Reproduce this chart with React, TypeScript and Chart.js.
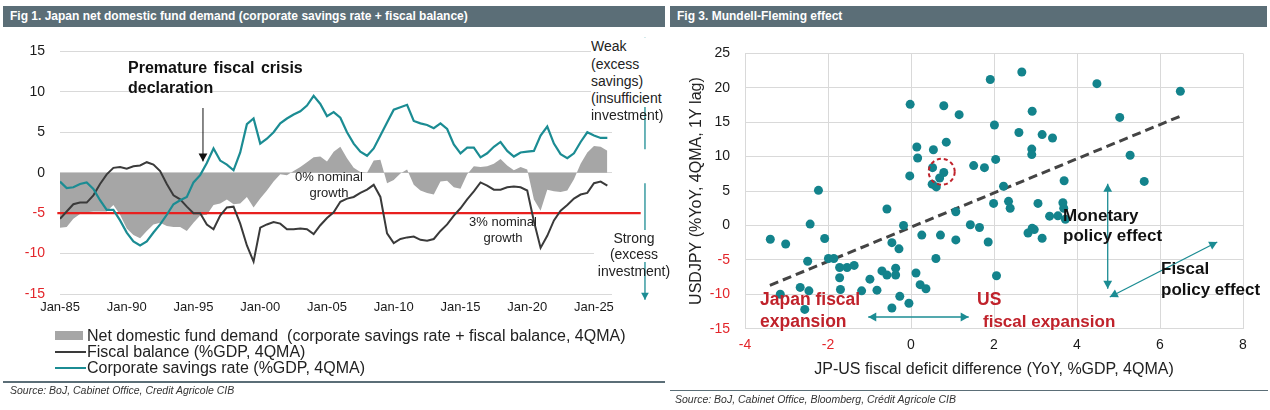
import React, { useEffect, useRef } from 'react';
import Chart from 'chart.js/auto';

const FONT = '"Liberation Sans", Arial, sans-serif';
const SLATE = '#5b6e77';
const TEAL = '#1b8c93';
const DOT = '#13838c';
const RED_TICK = '#e3262b';
const RED_TEXT = '#c0222b';
const INK = '#1a1a1a';

// ---- Fig 1: half-yearly readings, 1985 to 2026 ----
const periods = [
  1985, 1985.5, 1986, 1986.5, 1987, 1987.5, 1988, 1988.5, 1989, 1989.5,
  1990, 1990.5, 1991, 1991.5, 1992, 1992.5, 1993, 1993.5, 1994, 1994.5,
  1995, 1995.5, 1996, 1996.5, 1997, 1997.5, 1998, 1998.5, 1999, 1999.5,
  2000, 2000.5, 2001, 2001.5, 2002, 2002.5, 2003, 2003.5, 2004, 2004.5,
  2005, 2005.5, 2006, 2006.5, 2007, 2007.5, 2008, 2008.5, 2009, 2009.5,
  2010, 2010.5, 2011, 2011.5, 2012, 2012.5, 2013, 2013.5, 2014, 2014.5,
  2015, 2015.5, 2016, 2016.5, 2017, 2017.5, 2018, 2018.5, 2019, 2019.5,
  2020, 2020.5, 2021, 2021.5, 2022, 2022.5, 2023, 2023.5, 2024, 2024.5,
  2025, 2025.5, 2026,
];

const corpSavings = [
  -1.1, -1.9, -1.8, -1.4, -1.2, -2.0, -3.4, -4.6, -4.6, -5.9,
  -7.4, -8.5, -9.0, -8.5, -7.4, -6.4, -5.2, -3.9, -3.4, -3.0,
  -1.2, -0.3, 1.2, 3.0, 1.5, 1.0, 0.3, 2.5, 6.0, 6.7,
  3.6, 4.2, 5.0, 6.1, 6.7, 7.2, 7.6, 8.3, 9.5, 8.5,
  7.0, 7.5, 6.8, 5.0, 3.6, 2.6, 2.1, 3.0, 4.6, 6.2,
  7.8, 8.1, 8.4, 6.4, 6.1, 5.9, 5.5, 6.1, 5.4, 3.5,
  2.4, 3.1, 3.1, 1.9, 2.4, 3.2, 3.8, 2.7, 2.0, 2.5,
  2.6, 2.7, 4.6, 5.7, 3.6, 2.3, 1.8, 2.4, 3.8, 5.0,
  4.6, 4.3, 4.3,
];

const fiscalBalance = [
  -5.7, -4.8, -3.9, -3.7, -3.7, -2.8, -1.4, -0.2, 0.6, 0.7,
  0.5, 0.8, 0.9, 1.3, 1.0, 0.2, -1.4, -2.8, -3.3, -4.2,
  -5.0, -5.0, -6.4, -7.0, -5.3, -4.3, -4.2, -6.3, -9.0, -11.0,
  -6.8, -6.4, -6.1, -6.3, -7.0, -7.0, -6.9, -7.0, -7.6, -6.5,
  -5.6, -4.9, -3.6, -3.2, -3.0, -2.5, -2.1, -1.5, -3.0, -7.5,
  -8.7, -8.2, -8.0, -7.9, -8.3, -8.4, -8.2, -7.2, -6.4, -5.3,
  -4.4, -3.3, -2.3, -1.2, -1.6, -2.1, -2.1, -1.8, -1.7, -1.8,
  -2.2, -6.0, -9.3, -7.8, -5.9, -4.7, -4.0, -3.2, -2.7, -2.5,
  -1.3, -1.1, -1.6,
];

const netDemand = [
  -6.8, -6.7, -5.7, -5.1, -4.9, -4.8, -4.8, -4.8, -4.0, -5.2,
  -6.9, -7.7, -8.1, -7.2, -6.4, -6.2, -6.6, -6.7, -6.7, -7.2,
  -6.2, -5.3, -5.2, -4.0, -3.8, -3.3, -3.9, -3.8, -3.0, -4.3,
  -3.2, -2.2, -1.1, -0.2, -0.3, 0.2, 0.7, 1.3, 1.9, 2.0,
  1.4, 2.6, 3.2, 1.8, 0.6, 0.1, 0.0, 1.5, 1.6, -1.3,
  -0.9, -0.1, 0.4, -1.5, -2.2, -2.5, -2.7, -1.1, -1.0, -1.8,
  -2.0, -0.2, 0.8, 0.7, 0.8, 1.1, 1.7, 0.9, 0.3, 0.7,
  0.4, -3.3, -4.7, -2.1, -2.3, -2.4, -2.2, -0.8, 1.1, 2.5,
  3.3, 3.2, 2.7,
];

// 3% nominal growth threshold line
const thresholdYears = [1984.8, 2028.5];
const thresholdLevel = [-5, -5];

const fig1TickYears = [1985, 1990, 1995, 2000, 2005, 2010, 2015, 2020, 2025];

// ---- Fig 3: JP-US fiscal deficit difference vs USDJPY ----
const deficitDiff = [
  -0.02, 0.79, 1.16, 2.01, 0.14, 0.54, 0.85, 0.16, 2.04, 1.51,
  1.77, 0.52, 0.79, 0.69, -0.03, 0.51, 0.61, -2.23, 1.99, -0.58,
  1.08, -2.43, -0.18, 1.43, 1.65, -3.39, -3.02, -2.08, 0.26, 0.71,
  1.08, 1.86, -0.46, -0.29, -2.49, -1.99, -1.86, 0.6, -1.72, -1.54,
  -1.37, -0.7, -0.58, -0.37, -0.37, 0.12, -1.72, -0.99, 2.06, -2.67,
  -2.46, -1.7, -1.19, -0.82, 0.22, 0.36, -3.15, -0.27, -0.05, -2.56,
  -0.46, 1.91, 2.67, 4.48, 6.49, 2.92, 5.03, 2.6, 3.16, 3.41,
  2.91, 2.91, 5.28, 3.69, 5.62, 2.23, 2.35, 2.39, 3.06, 3.66,
  3.68, 3.34, 3.54, 3.72, 2.92, 2.82, 2.97, 3.16,
];

const usdjpyChange = [
  17.6, 17.4, 16.1, 14.6, 11.4, 11.0, 12.1, 9.8, 9.6, 8.7,
  8.4, 8.4, 7.7, 6.9, 7.2, 6.0, 5.6, 5.1, 3.2, 2.4,
  2.0, 0.2, 0.0, 0.1, -0.3, -2.0, -2.7, -1.9, -1.4, -1.4,
  -2.1, -2.4, -2.5, -3.4, -5.2, -4.8, -4.8, -4.8, -6.1, -6.1,
  -5.8, -6.6, -7.2, -6.2, -7.2, -6.9, -7.6, -7.8, -7.3, -9.0,
  -9.5, -9.3, -9.5, -9.4, -8.6, -9.2, -10.0, -10.3, -11.3, -12.2,
  -12.0, 21.2, 22.3, 20.6, 19.5, 16.6, 15.7, 13.5, 13.2, 12.7,
  11.1, 10.3, 10.2, 6.5, 6.4, 5.7, 3.5, 2.5, 3.2, 3.3,
  2.5, 1.35, 1.4, 0.9, -0.4, -1.1, -0.6, -1.85,
];

const trendX = [-3.4, 6.5];
const trendY = [-8.7, 15.9];

const pts = (xs: number[], ys: number[]) => xs.map((x, i) => ({ x, y: ys[i] }));

function drawArrow(
  ctx: CanvasRenderingContext2D,
  x1: number, y1: number, x2: number, y2: number,
  color: string, width: number, size: number, both: boolean,
) {
  const head = (x: number, y: number, ang: number) => {
    ctx.save();
    ctx.translate(x, y);
    ctx.rotate(ang);
    ctx.beginPath();
    ctx.moveTo(0, 0);
    ctx.lineTo(-size, size * 0.55);
    ctx.lineTo(-size, -size * 0.55);
    ctx.closePath();
    ctx.fill();
    ctx.restore();
  };
  const ang = Math.atan2(y2 - y1, x2 - x1);
  ctx.save();
  ctx.strokeStyle = color;
  ctx.fillStyle = color;
  ctx.lineWidth = width;
  ctx.beginPath();
  ctx.moveTo(x1, y1);
  ctx.lineTo(x2, y2);
  ctx.stroke();
  head(x2, y2, ang);
  if (both) head(x1, y1, ang + Math.PI);
  ctx.restore();
}

const fig1Arrows = {
  id: 'fig1Arrows',
  afterDatasetsDraw(chart: any) {
    const { ctx, scales } = chart;
    const px = (v: number) => scales.x.getPixelForValue(v);
    const py = (v: number) => scales.y.getPixelForValue(v);
    drawArrow(ctx, px(1995.71), py(8.0), px(1995.71), py(1.4), '#111', 1, 8, false);
    drawArrow(ctx, px(2028.82), py(2.9), px(2028.82), py(16.7), TEAL, 1.3, 7, false);
    drawArrow(ctx, px(2028.82), py(-1.3), px(2028.82), py(-15.7), TEAL, 1.3, 7, false);
  },
};

const fig3Arrows = {
  id: 'fig3Arrows',
  afterDatasetsDraw(chart: any) {
    const { ctx, scales } = chart;
    const px = (v: number) => scales.x.getPixelForValue(v);
    const py = (v: number) => scales.y.getPixelForValue(v);
    drawArrow(ctx, px(-1.03), py(-13.3), px(1.39), py(-13.3), TEAL, 1.3, 8, true);
    drawArrow(ctx, px(4.74), py(6.07), px(4.74), py(-9.2), TEAL, 1.3, 8, true);
    drawArrow(ctx, px(4.79), py(-10.4), px(7.38), py(-2.4), TEAL, 1.3, 8, true);
    ctx.save();
    ctx.strokeStyle = RED_TEXT;
    ctx.lineWidth = 2;
    ctx.setLineDash([4, 3]);
    ctx.beginPath();
    ctx.arc(px(0.74), py(7.8), 13, 0, Math.PI * 2);
    ctx.stroke();
    ctx.restore();
  },
};

const Fig1Chart: React.FC = () => {
  const canvasRef = useRef<HTMLCanvasElement>(null);
  const chartRef = useRef<Chart | null>(null);

  useEffect(() => {
    if (!canvasRef.current) return;
    if (chartRef.current) chartRef.current.destroy();

    chartRef.current = new Chart(canvasRef.current, {
      type: 'line',
      data: {
        datasets: [
          {
            label: 'Corporate savings rate (%GDP, 4QMA)',
            data: pts(periods, corpSavings),
            borderColor: TEAL,
            borderWidth: 2.2,
            pointRadius: 0,
            order: 0,
          },
          {
            label: 'Fiscal balance (%GDP, 4QMA)',
            data: pts(periods, fiscalBalance),
            borderColor: '#3a3a3a',
            borderWidth: 2,
            pointRadius: 0,
            order: 1,
          },
          {
            label: '3% nominal growth',
            data: pts(thresholdYears, thresholdLevel),
            borderColor: '#e8201f',
            borderWidth: 2.2,
            pointRadius: 0,
            clip: false,
            order: 2,
          },
          {
            label: 'Net domestic fund demand',
            data: pts(periods, netDemand),
            borderWidth: 0,
            borderColor: 'rgba(0,0,0,0)',
            backgroundColor: '#a6a6a6',
            fill: 'origin',
            pointRadius: 0,
            order: 3,
          },
        ],
      } as any,
      options: {
        animation: false,
        responsive: false,
        events: [],
        layout: { padding: { top: 16, right: 53, left: 0, bottom: 0 } },
        plugins: { legend: { display: false }, tooltip: { enabled: false } },
        scales: {
          x: {
            type: 'linear',
            min: 1985,
            max: 2026.35,
            afterBuildTicks: (s: any) => {
              s.ticks = fig1TickYears.map(v => ({ value: v }));
            },
            afterFit: (s: any) => {
              s.height = 34;
            },
            grid: { display: false, drawTicks: false },
            border: { display: false },
            ticks: {
              padding: 6,
              color: INK,
              maxRotation: 0,
              autoSkip: false,
              font: { size: 13, family: FONT },
              callback: (v: any) => 'Jan-' + String(v).slice(2),
            },
          },
          y: {
            min: -15,
            max: 15,
            afterFit: (s: any) => {
              s.width = 60;
            },
            grid: { color: '#d9d9d9', drawTicks: false },
            border: { display: false },
            ticks: {
              stepSize: 5,
              padding: 15,
              font: { size: 14, family: FONT },
              color: (c: any) => (c.tick && c.tick.value < 0 ? RED_TICK : INK),
            },
          },
        },
      } as any,
      plugins: [fig1Arrows],
    });

    return () => {
      if (chartRef.current) {
        chartRef.current.destroy();
        chartRef.current = null;
      }
    };
  }, []);

  return (
    <canvas
      ref={canvasRef}
      width={665}
      height={300}
      style={{ position: 'absolute', left: 0, top: 28, width: 665, height: 300 }}
    />
  );
};

const Fig3Chart: React.FC = () => {
  const canvasRef = useRef<HTMLCanvasElement>(null);
  const chartRef = useRef<Chart | null>(null);

  useEffect(() => {
    if (!canvasRef.current) return;
    if (chartRef.current) chartRef.current.destroy();

    chartRef.current = new Chart(canvasRef.current, {
      type: 'scatter',
      data: {
        datasets: [
          {
            label: 'USDJPY vs fiscal deficit difference',
            data: pts(deficitDiff, usdjpyChange),
            backgroundColor: DOT,
            borderWidth: 0,
            pointRadius: 4.5,
            order: 0,
          },
          {
            type: 'line',
            label: 'Trend',
            data: pts(trendX, trendY),
            borderColor: '#444',
            borderWidth: 3,
            borderDash: [9, 5],
            pointRadius: 0,
            order: 1,
          },
        ],
      } as any,
      options: {
        animation: false,
        responsive: false,
        events: [],
        layout: { padding: { top: 10.7, right: 25, left: 0, bottom: 0 } },
        plugins: { legend: { display: false }, tooltip: { enabled: false } },
        scales: {
          x: {
            type: 'linear',
            min: -4,
            max: 8,
            afterFit: (s: any) => {
              s.height = 56.3;
            },
            grid: { color: '#d9d9d9', drawTicks: false },
            border: { display: false },
            ticks: {
              stepSize: 2,
              padding: 8,
              font: { size: 14, family: FONT },
              color: (c: any) => (c.tick && c.tick.value < 0 ? RED_TICK : INK),
            },
            title: {
              display: true,
              text: 'JP-US fiscal deficit difference (YoY, %GDP, 4QMA)',
              color: '#222',
              font: { size: 16, family: FONT },
              padding: { top: 0, bottom: 5.4 },
            },
          },
          y: {
            min: -15,
            max: 25,
            afterFit: (s: any) => {
              s.width = 75;
            },
            grid: { color: '#d9d9d9', drawTicks: false },
            border: { display: false },
            ticks: {
              stepSize: 5,
              padding: 15,
              font: { size: 14, family: FONT },
              color: (c: any) => (c.tick && c.tick.value < 0 ? RED_TICK : INK),
            },
            title: {
              display: true,
              text: 'USDJPY (%YoY, 4QMA, 1Y lag)',
              color: '#222',
              font: { size: 16, family: FONT },
              padding: { top: 17.4, bottom: 0 },
            },
          },
        },
      } as any,
      plugins: [fig3Arrows],
    });

    return () => {
      if (chartRef.current) {
        chartRef.current.destroy();
        chartRef.current = null;
      }
    };
  }, []);

  return (
    <canvas
      ref={canvasRef}
      width={598}
      height={355}
      style={{ position: 'absolute', left: 670, top: 30, width: 598, height: 355 }}
    />
  );
};

const abs = (left: number, top: number, extra: React.CSSProperties = {}): React.CSSProperties => ({
  position: 'absolute',
  left,
  top,
  whiteSpace: 'pre',
  ...extra,
});

export default function App() {
  const titleStyle: React.CSSProperties = {
    height: 21,
    background: SLATE,
    color: '#fff',
    fontWeight: 'bold',
    fontSize: 12,
    lineHeight: '21px',
    paddingLeft: 7,
    boxSizing: 'border-box',
  };
  const legendText: React.CSSProperties = { fontSize: 16, lineHeight: '16px', color: '#222' };

  return (
    <div
      style={{
        position: 'absolute',
        left: 0,
        top: 0,
        width: 1270,
        height: 410,
        background: '#fff',
        overflow: 'hidden',
        fontFamily: FONT,
      }}
    >
      {/* Fig 1 */}
      <div style={abs(3, 6, { ...titleStyle, width: 662 })}>
        Fig 1. Japan net domestic fund demand (corporate savings rate + fiscal balance)
      </div>
      <Fig1Chart />
      <div style={abs(128, 58, { fontSize: 16, lineHeight: '20px', fontWeight: 'bold', color: '#111', wordSpacing: 2 })}>
        {'Premature fiscal crisis\ndeclaration'}
      </div>
      <div style={abs(279, 168.8, { width: 100, textAlign: 'center', fontSize: 13, lineHeight: '16.5px', color: '#222' })}>
        {'0% nominal\ngrowth'}
      </div>
      <div style={abs(453, 213.8, { width: 100, textAlign: 'center', fontSize: 13, lineHeight: '16.5px', color: '#222' })}>
        {'3% nominal\ngrowth'}
      </div>
      <div style={abs(591, 38.4, { fontSize: 14, lineHeight: '17.2px', color: '#222', background: '#fff' })}>
        {'Weak\n(excess\nsavings)\n(insufficient'}
      </div>
      <div style={abs(591, 107.2, { fontSize: 14, lineHeight: '17.2px', color: '#222' })}>investment)</div>
      <div style={abs(594, 229.8, { width: 80, textAlign: 'center', fontSize: 14, lineHeight: '16.3px', color: '#222', background: '#fff' })}>
        {'Strong\n(excess'}
      </div>
      <div style={abs(594, 262.5, { width: 80, textAlign: 'center', fontSize: 14, lineHeight: '16.3px', color: '#222' })}>
        investment)
      </div>

      {/* Fig 1 legend */}
      <div style={abs(55, 331, { width: 28, height: 9, background: '#a6a6a6' })} />
      <div style={abs(87, 327.7, legendText)}>
        {'Net domestic fund demand  (corporate savings rate + fiscal balance, 4QMA)'}
      </div>
      <div style={abs(55, 351, { width: 31, height: 2, background: '#3a3a3a' })} />
      <div style={abs(87, 343.7, legendText)}>Fiscal balance (%GDP, 4QMA)</div>
      <div style={abs(55, 367, { width: 31, height: 2, background: TEAL })} />
      <div style={abs(87, 359.7, legendText)}>Corporate savings rate (%GDP, 4QMA)</div>

      <div style={abs(3, 381, { width: 662, height: 1.5, background: SLATE })} />
      <div style={abs(10, 383, { fontSize: 10.5, lineHeight: '14px', fontStyle: 'italic', color: '#333' })}>
        Source: BoJ, Cabinet Office, Credit Agricole CIB
      </div>

      {/* Fig 3 */}
      <div style={abs(670, 6, { ...titleStyle, width: 597 })}>Fig 3. Mundell-Fleming effect</div>
      <Fig3Chart />
      <div style={abs(760, 289.2, { fontSize: 17.5, lineHeight: '21.7px', fontWeight: 'bold', color: RED_TEXT })}>
        {'Japan fiscal\nexpansion'}
      </div>
      <div style={abs(977, 289.2, { fontSize: 17.5, lineHeight: '21.7px', fontWeight: 'bold', color: RED_TEXT })}>US</div>
      <div style={abs(983, 310.9, { fontSize: 17, lineHeight: '21.7px', fontWeight: 'bold', color: RED_TEXT })}>
        fiscal expansion
      </div>
      <div style={abs(1063, 205.7, { fontSize: 17, lineHeight: '20.7px', fontWeight: 'bold', color: '#111' })}>
        {'Monetary\npolicy effect'}
      </div>
      <div style={abs(1161, 259, { fontSize: 17, lineHeight: '20.7px', fontWeight: 'bold', color: '#111' })}>
        {'Fiscal\npolicy effect'}
      </div>

      <div style={abs(670, 389.5, { width: 598, height: 1.5, background: SLATE })} />
      <div style={abs(675, 392, { fontSize: 10.5, lineHeight: '14px', fontStyle: 'italic', color: '#333' })}>
        Source: BoJ, Cabinet Office, Bloomberg, Crédit Agricole CIB
      </div>
    </div>
  );
}
